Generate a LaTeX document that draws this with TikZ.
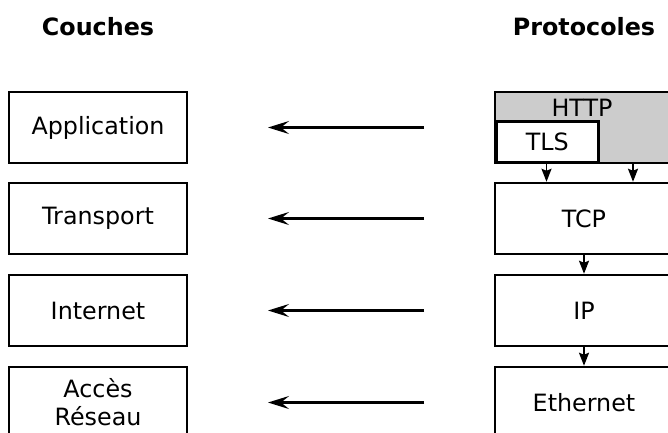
\documentclass[tikz,border=0pt]{standalone}
\usepackage{fontspec}
\setmainfont{DejaVu Sans}
\usetikzlibrary{arrows.meta}
\begin{document}
\begin{tikzpicture}[x=1pt,y=-1pt,
  txt/.style={font=\fontsize{23.8}{28}\selectfont},
  layerbox/.style={draw,line width=2.5pt,minimum width=178pt,minimum height=71pt,inner sep=0pt,txt,align=center},
  title/.style={font=\fontsize{23.8}{28}\selectfont\bfseries},
  maparrow/.style={line width=2.2pt,-{Stealth[length=21pt,width=13pt,inset=8pt]}},
  downarrow/.style={line width=1.8pt,-{Stealth[length=13pt,width=10pt,inset=2pt]}}
]
\useasboundingbox (0,0) rectangle (668,432);
\clip (0,0) rectangle (668,432);

\node[title] (tc) at (98,27) {Couches};
\node[title] (tp) at (584,27) {Protocoles};

\node[layerbox] (app) at (98,127.5) {Application};
\node[layerbox] (tra) at (98,218.5) {Transport};
\node[layerbox] (int) at (98,310.5) {Internet};
\node[layerbox,minimum height=71pt] (acc) at (98,402.5) {Accès\\Réseau};

% HTTP / TLS
\draw[line width=2.5pt,fill=gray!40] (495,92) rectangle (673,163);
\node[draw,line width=2.5pt,fill=white,minimum width=102pt,minimum height=40.5pt,inner sep=0pt,anchor=south west] (tls) at (495,163) {};
\node[txt] (http) at (582,108) {HTTP};
\node[txt] at (tls.center) {TLS};
\coordinate (tlsb) at (546.5,163);
\coordinate (httpb) at (633,163);

\node[layerbox] (tcp) at (584,218.5) {TCP};
\node[layerbox] (ip) at (584,310.5) {IP};
\node[layerbox] (eth) at (584,402.5) {Ethernet};

\draw[downarrow] (tlsb) -- (tlsb |- tcp.north);
\draw[downarrow] (httpb) -- (httpb |- tcp.north);
\draw[downarrow] (tcp.south) -- (ip.north);
\draw[downarrow] (ip.south) -- (eth.north);

\foreach \n/\y in {a/127.5,b/218.5,c/310.5,d/402.5}{
  \coordinate (s\n) at (424,\y);
  \coordinate (e\n) at (268,\y);
  \draw[maparrow] (s\n) -- (e\n);
}
\end{tikzpicture}
\end{document}
